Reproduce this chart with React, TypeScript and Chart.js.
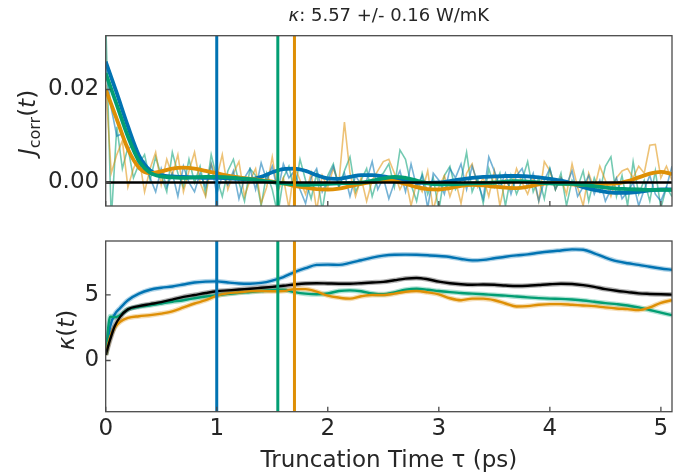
import React, { useEffect, useRef } from "react";
import { Chart, registerables } from "chart.js";

Chart.register(...registerables);

// ---------- colours ----------
const BLUE = "#0173b2";
const ORANGE = "#de8f05";
const GREEN = "#029e73";
const BLACK = "#000000";
const INK = "#262626";
const FRAME = "#4a4a4a";
const FONT = "'DejaVu Sans', sans-serif";

// ---------- axes / ticks ----------
const xTicks = [0, 1, 2, 3, 4, 5];
const jTicks = [0, 0.02];
const kTicks = [0, 5];
const X_MAX = 5.1;
const J_MIN = -0.00505;
const J_MAX = 0.03157;
const K_MIN = -3.91;
const K_MAX = 9.12;

const titleKappa = "κ";
const titleRest = ": 5.57 +/- 0.16 W/mK";
const xLabel = "Truncation Time τ (ps)";

// cutoff (truncation) times for blue, green, orange runs
const cutoffTimes = [1.0, 1.55, 1.7];
const cutoffColors = [BLUE, GREEN, ORANGE];
const jBaseline = 0;

// ---------- heat-flux autocorrelation, raw (dt = 0.05 ps) ----------
const RAW_DT = 0.05;
const jRawBlue = [
  0.025, 0.016, 0.010, 0.0105, 0.007, 0.0085, 0.003, 0.0045, 0.001, -0.002,
  0.003, -0.001, 0.002, -0.003, 0.0035, 0.000, -0.002, 0.002, -0.001, 0.004,
  -0.0025, 0.0015, -0.0005, 0.0025, -0.0035, 0.001, 0.003, -0.0015, 0.0042, 0.0005,
  0.0035, -0.002, 0.004, 0.001, 0.0025, -0.0015, -0.0045, 0.001, 0.003, -0.002,
  0.0005, 0.0035, -0.001, 0.002, -0.003, 0.0015, -0.0005, 0.0005, 0.0045, -0.0015,
  0.001, -0.0035, 0.000, 0.0025, -0.002, 0.004, -0.001, 0.0015, -0.0055, 0.002,
  0.0005, -0.0025, 0.003, 0.001, 0.004, -0.0015, 0.0035, 0.000, -0.0035, 0.0055,
  0.0025, -0.001, 0.002, -0.0025, 0.0015, 0.003, -0.001, 0.002, -0.004, 0.0005,
  0.003, -0.0015, 0.001, -0.0005, 0.0025, -0.003, -0.001, 0.0015, -0.0025, 0.0005,
  -0.004, -0.0015, 0.001, -0.0035, -0.002, 0.000, -0.005, -0.0015, 0.0015, -0.0025,
  -0.004, -0.001, 0.0035,
];
const jRawOrange = [
  0.021, 0.002, 0.006, 0.009, -0.001, 0.003, 0.0055, -0.002, 0.003, 0.0065,
  -0.0005, 0.005, 0.0015, 0.006, -0.002, 0.0025, 0.0065, 0.000, -0.003, 0.004,
  0.001, 0.006, -0.0015, 0.002, 0.0045, -0.003, 0.0005, 0.003, -0.0045, -0.001,
  0.0055, -0.002, 0.001, -0.0055, 0.0035, 0.0005, -0.0025, 0.002, -0.006, 0.0015,
  -0.001, 0.003, 0.000, 0.013, 0.002, -0.003, 0.001, -0.004, 0.0005, 0.0025,
  0.0045, 0.005, 0.002, -0.0015, 0.001, -0.005, 0.000, -0.002, 0.0025, -0.006,
  -0.001, 0.0015, -0.003, 0.0005, -0.0045, 0.002, 0.004, -0.001, 0.001, -0.003,
  0.0025, -0.005, 0.0005, -0.0015, 0.003, 0.000, -0.0025, 0.001, -0.004, 0.0045,
  0.0025, -0.0015, 0.001, -0.0025, 0.004, -0.001, -0.005, 0.002, -0.0015, 0.0035,
  0.0005, -0.003, 0.001, 0.0025, 0.003, 0.001, 0.0035, 0.002, 0.008, 0.0082,
  0.001, 0.0035, 0.0005,
];
const jRawGreen = [
  0.035, -0.008, 0.012, 0.003, 0.0075, 0.001, 0.004, 0.006, 0.0005, 0.0055,
  0.0015, -0.002, 0.0065, 0.002, -0.001, 0.005, 0.000, 0.0035, -0.0025, 0.006,
  0.001, -0.003, 0.0025, 0.005, 0.000, -0.004, 0.003, 0.0015, -0.005, 0.002,
  -0.0015, -0.007, 0.001, 0.0035, -0.002, 0.005, 0.0005, -0.0035, 0.002, -0.006,
  0.0015, 0.004, -0.001, 0.0025, 0.0055, -0.002, 0.0005, 0.003, -0.003, 0.001,
  0.002, 0.004, -0.001, 0.007, 0.005, -0.0005, -0.004, 0.002, -0.0025, 0.001,
  -0.006, 0.0015, 0.0035, -0.0015, 0.0005, 0.0065, -0.002, 0.001, -0.0045, 0.003,
  -0.001, 0.002, -0.005, 0.0015, -0.0025, 0.0005, 0.0045, -0.002, 0.001, -0.0035,
  0.003, -0.0015, 0.002, -0.005, 0.0005, -0.001, 0.0025, -0.004, 0.001, -0.002,
  0.0035, 0.0055, -0.003, 0.0015, -0.005, 0.0045, -0.0025, 0.0005, -0.004, 0.0025,
  -0.0055, -0.001, -0.003,
];

// ---------- smoothed autocorrelation (dt = 0.1 ps) ----------
const SMOOTH_DT = 0.1;
const jSmoothBlue = [
  0.026, 0.0192, 0.0121, 0.0058, 0.0026, 0.0016, 0.0013, 0.0012, 0.0011, 0.0010,
  0.0010, 0.0009, 0.0008, 0.0007, 0.0012, 0.0022, 0.0029, 0.0030, 0.0025, 0.0016,
  0.0009, 0.0008, 0.0012, 0.0016, 0.0016, 0.0013, 0.0008, 0.0003, 0.0000, -0.0001,
  0.0000, 0.0003, 0.0007, 0.0010, 0.0012, 0.0013, 0.0014, 0.0014, 0.0013, 0.0011,
  0.0008, 0.0004, -0.0002, -0.0010, -0.0016, -0.0020, -0.0022, -0.0022, -0.0020, -0.0017,
  -0.0015, -0.0015,
];
const jSmoothOrange = [
  0.020, 0.0136, 0.0072, 0.0032, 0.0020, 0.0024, 0.0030, 0.0032, 0.0030, 0.0025,
  0.0020, 0.0015, 0.0011, 0.0008, 0.0005, 0.0002, -0.0002, -0.0007, -0.0011, -0.0014,
  -0.0015, -0.0013, -0.0008, -0.0003, 0.0001, 0.0004, 0.0003, -0.0003, -0.0010, -0.0014,
  -0.0015, -0.0012, -0.0007, -0.0005, -0.0006, -0.0009, -0.0011, -0.0012, -0.0009, -0.0004,
  -0.0001, -0.0002, -0.0004, -0.0005, -0.0004, -0.0003, -0.0002, 0.0003, 0.0011, 0.0019,
  0.0023, 0.0018,
];
const jSmoothGreen = [
  0.0235, 0.0167, 0.0099, 0.0046, 0.0021, 0.0013, 0.0011, 0.0010, 0.0011, 0.0012,
  0.0012, 0.0011, 0.0009, 0.0007, 0.0004, 0.0001, -0.0002, -0.0004, -0.0005, -0.0004,
  -0.0003, -0.0002, -0.0001, 0.0000, 0.0004, 0.0009, 0.0012, 0.0010, 0.0004, -0.0002,
  -0.0004, -0.0004, -0.0003, -0.0002, -0.0001, 0.0000, 0.0002, 0.0003, 0.0002, 0.0000,
  -0.0002, -0.0003, -0.0003, -0.0005, -0.0008, -0.0011, -0.0013, -0.0014, -0.0015, -0.0016,
  -0.0016, -0.0016,
];

// ---------- running thermal conductivity kappa(t) ----------
const kT = [
  0, 0.04, 0.08, 0.13, 0.2, 0.3,
  0.4, 0.5, 0.6, 0.7, 0.8, 0.9, 1.0,
  1.1, 1.2, 1.3, 1.4, 1.5, 1.6, 1.7, 1.8, 1.9, 2.0,
  2.1, 2.2, 2.3, 2.4, 2.5, 2.6, 2.7, 2.8, 2.9, 3.0,
  3.1, 3.2, 3.3, 3.4, 3.5, 3.6, 3.7, 3.8, 3.9, 4.0,
  4.1, 4.2, 4.3, 4.4, 4.5, 4.6, 4.7, 4.8, 4.9, 5.0,
  5.1,
];
const kBlue = [
  0.43, 2.6, 3.5, 4.0, 4.6, 5.1,
  5.4, 5.55, 5.65, 5.8, 5.95, 6.02, 6.04,
  5.95, 5.88, 5.86, 5.92, 6.1, 6.37, 6.75, 7.05, 7.3, 7.32,
  7.3, 7.45, 7.65, 7.85, 8.0, 8.07, 8.08, 8.07, 8.03, 7.97,
  7.9, 7.75, 7.64, 7.68, 7.8, 7.92, 8.02, 8.1, 8.22, 8.32,
  8.4, 8.48, 8.45, 8.18, 7.85, 7.58, 7.42, 7.3, 7.15, 7.02,
  6.92,
];
const kMean = [
  0.43, 1.6, 2.6, 3.33, 3.9, 4.15,
  4.3, 4.45, 4.65, 4.85, 5.0, 5.15, 5.28,
  5.35, 5.42, 5.48, 5.55, 5.62, 5.7, 5.8, 5.88, 5.9, 5.88,
  5.86, 5.86, 5.9, 5.95, 6.0, 6.12, 6.25, 6.3, 6.2, 6.02,
  5.9, 5.82, 5.78, 5.8, 5.78, 5.72, 5.68, 5.7, 5.76, 5.82,
  5.86, 5.84, 5.75, 5.62, 5.45, 5.32, 5.22, 5.12, 5.08, 5.05,
  5.03,
];
const kOrange = [
  0.43, 1.8, 2.5, 2.96, 3.25, 3.38,
  3.46, 3.58, 3.75, 4.05, 4.35, 4.6, 4.95,
  5.12, 5.2, 5.28, 5.3, 5.28, 5.3, 5.45, 5.45, 5.25, 4.95,
  4.8, 4.72, 4.9, 5.0, 5.0, 5.1, 5.25, 5.3, 5.2, 5.05,
  4.75, 4.6, 4.72, 4.72, 4.6, 4.35, 4.12, 4.15, 4.25, 4.3,
  4.3, 4.25, 4.2, 4.15, 4.05, 3.97, 3.92, 3.85, 4.05, 4.4,
  4.6,
];
const kGreen = [
  0.43, 3.35, 3.3, 3.46, 3.9, 4.1,
  4.22, 4.35, 4.48, 4.6, 4.75, 4.88, 4.98,
  5.08, 5.17, 5.23, 5.3, 5.37, 5.4, 5.22, 5.1, 5.05, 5.12,
  5.3, 5.35, 5.28, 5.12, 5.05, 5.2, 5.4, 5.48, 5.4, 5.3,
  5.22, 5.15, 5.1, 5.05, 5.0, 4.95, 4.88, 4.82, 4.76, 4.72,
  4.7, 4.65, 4.58, 4.48, 4.38, 4.3, 4.2, 4.05, 3.85, 3.65,
  3.46,
];

// ---------- helpers ----------
const W = 679;
const TOP_H = 230;
const BOT_H = 476 - TOP_H;
const AXIS_LEFT = 105.7;
const PAD_RIGHT = 679 - 672;
const FS = 23;

const grid = (step: number, ys: number[]) => ys.map((y, i) => ({ x: i * step, y }));
const pairs = (xs: number[], ys: number[]) => ys.map((y, i) => ({ x: xs[i], y }));
const alpha = (hex: string, a: number) => {
  const n = parseInt(hex.slice(1), 16);
  return `rgba(${(n >> 16) & 255},${(n >> 8) & 255},${n & 255},${a})`;
};

type Part = { t: string; font: string; dy?: number };
function drawParts(ctx: CanvasRenderingContext2D, parts: Part[], x: number, y: number, rotate: boolean) {
  ctx.save();
  ctx.fillStyle = INK;
  ctx.textBaseline = "alphabetic";
  ctx.textAlign = "left";
  let total = 0;
  const widths = parts.map((p) => {
    ctx.font = p.font;
    const w = ctx.measureText(p.t).width;
    total += w;
    return w;
  });
  ctx.translate(x, y);
  if (rotate) ctx.rotate(-Math.PI / 2);
  let cx = -total / 2;
  parts.forEach((p, i) => {
    ctx.font = p.font;
    ctx.fillText(p.t, cx, p.dy || 0);
    cx += widths[i];
  });
  ctx.restore();
}

function makeDecor(yTickVals: number[], drawZero: boolean, drawText: (ctx: CanvasRenderingContext2D, area: any) => void) {
  return {
    id: "decor",
    afterDatasetsDraw(chart: any) {
      const { ctx, chartArea: a, scales } = chart;
      ctx.save();
      ctx.beginPath();
      ctx.rect(a.left, a.top, a.right - a.left, a.bottom - a.top);
      ctx.clip();
      if (drawZero) {
        const py = scales.y.getPixelForValue(jBaseline);
        ctx.strokeStyle = BLACK;
        ctx.lineWidth = 2.6;
        ctx.beginPath();
        ctx.moveTo(a.left, py);
        ctx.lineTo(a.right, py);
        ctx.stroke();
      }
      cutoffTimes.forEach((c, i) => {
        const px = scales.x.getPixelForValue(c);
        ctx.strokeStyle = cutoffColors[i];
        ctx.lineWidth = 3;
        ctx.beginPath();
        ctx.moveTo(px, a.top);
        ctx.lineTo(px, a.bottom);
        ctx.stroke();
      });
      ctx.restore();
    },
    afterDraw(chart: any) {
      const { ctx, chartArea: a, scales } = chart;
      ctx.save();
      ctx.strokeStyle = FRAME;
      ctx.lineWidth = 1.3;
      ctx.strokeRect(a.left, a.top, a.right - a.left, a.bottom - a.top);
      ctx.beginPath();
      xTicks.forEach((v) => {
        const px = scales.x.getPixelForValue(v);
        ctx.moveTo(px, a.bottom);
        ctx.lineTo(px, a.bottom - 5);
      });
      yTickVals.forEach((v) => {
        const py = scales.y.getPixelForValue(v);
        ctx.moveTo(a.left, py);
        ctx.lineTo(a.left + 5, py);
      });
      ctx.stroke();
      ctx.restore();
      drawText(ctx, a);
    },
  };
}

const tickFont = { family: FONT, size: FS, lineHeight: 1.0 };
const noPadY = (s: any) => {
  s.width = AXIS_LEFT;
  s.paddingTop = 0;
  s.paddingBottom = 0;
};

export default function App() {
  const topRef = useRef<HTMLCanvasElement>(null);
  const botRef = useRef<HTMLCanvasElement>(null);

  useEffect(() => {
    const raw = (data: number[], color: string) => ({
      data: grid(RAW_DT, data),
      borderColor: alpha(color, 0.55),
      borderWidth: 1.6,
      tension: 0,
      order: 10,
    });
    const smooth = (data: number[], color: string, order: number) => ({
      data: grid(SMOOTH_DT, data),
      borderColor: color,
      borderWidth: 3.8,
      cubicInterpolationMode: "monotone" as const,
      order,
    });

    const top = new Chart(topRef.current!, {
      type: "line",
      data: {
        datasets: [
          raw(jRawBlue, BLUE),
          raw(jRawOrange, ORANGE),
          raw(jRawGreen, GREEN),
          smooth(jSmoothBlue, BLUE, 3),
          smooth(jSmoothOrange, ORANGE, 2),
          smooth(jSmoothGreen, GREEN, 1),
        ] as any,
      },
      options: {
        animation: false,
        responsive: false,
        maintainAspectRatio: false,
        layout: { padding: { top: 35.7, right: PAD_RIGHT, left: 0, bottom: 0 } },
        elements: { point: { radius: 0 } },
        plugins: { legend: { display: false }, tooltip: { enabled: false }, title: { display: false } },
        scales: {
          x: {
            type: "linear",
            min: 0,
            max: X_MAX,
            grid: { display: false, drawTicks: false },
            border: { display: false },
            ticks: { display: false },
            afterFit: (s: any) => {
              s.height = TOP_H - 206;
              s.paddingLeft = 0;
              s.paddingRight = 0;
            },
          },
          y: {
            type: "linear",
            min: J_MIN,
            max: J_MAX,
            grid: { display: false, drawTicks: false },
            border: { display: false },
            ticks: { font: tickFont, color: INK, padding: 6.5, callback: (v: any) => Number(v).toFixed(2) },
            afterBuildTicks: (s: any) => {
              s.ticks = jTicks.map((value) => ({ value }));
            },
            afterFit: noPadY,
          },
        },
      } as any,
      plugins: [
        makeDecor(jTicks, true, (ctx, a) => {
          drawParts(
            ctx,
            [
              { t: titleKappa, font: `italic 18px ${FONT}` },
              { t: titleRest, font: `18px ${FONT}` },
            ],
            (a.left + a.right) / 2,
            20.5,
            false
          );
          drawParts(
            ctx,
            [
              { t: "J", font: `italic ${FS}px ${FONT}` },
              { t: "corr", font: `16px ${FONT}`, dy: 5 },
              { t: "(", font: `${FS}px ${FONT}` },
              { t: "t", font: `italic ${FS}px ${FONT}` },
              { t: ")", font: `${FS}px ${FONT}` },
            ],
            35,
            122.5,
            true
          );
        }),
      ],
    });

    const kLine = (data: number[], color: string, order: number) => [
      {
        data: pairs(kT, data),
        borderColor: alpha(color, 0.3),
        borderWidth: 5,
        tension: 0.3,
        order: order + 10,
      },
      {
        data: pairs(kT, data),
        borderColor: color,
        borderWidth: 2.4,
        cubicInterpolationMode: "monotone" as const,
        order,
      },
    ];

    const bot = new Chart(botRef.current!, {
      type: "line",
      data: {
        datasets: [
          ...kLine(kBlue, BLUE, 4),
          ...kLine(kGreen, GREEN, 3),
          ...kLine(kOrange, ORANGE, 2),
          ...kLine(kMean, BLACK, 1),
        ] as any,
      },
      options: {
        animation: false,
        responsive: false,
        maintainAspectRatio: false,
        layout: { padding: { top: 241 - TOP_H, right: PAD_RIGHT, left: 0, bottom: 0 } },
        elements: { point: { radius: 0 } },
        plugins: { legend: { display: false }, tooltip: { enabled: false }, title: { display: false } },
        scales: {
          x: {
            type: "linear",
            min: 0,
            max: X_MAX,
            grid: { display: false, drawTicks: false },
            border: { display: false },
            ticks: { font: tickFont, color: INK, padding: 5.8, maxRotation: 0, autoSkip: false },
            afterBuildTicks: (s: any) => {
              s.ticks = xTicks.map((value) => ({ value }));
            },
            title: {
              display: true,
              text: xLabel,
              font: { family: FONT, size: FS, lineHeight: 1.2 },
              color: INK,
              padding: { top: 0, bottom: 1.5 },
            },
            afterFit: (s: any) => {
              s.height = 476 - 411.7;
              s.paddingLeft = 0;
              s.paddingRight = 0;
            },
          },
          y: {
            type: "linear",
            min: K_MIN,
            max: K_MAX,
            grid: { display: false, drawTicks: false },
            border: { display: false },
            ticks: { font: tickFont, color: INK, padding: 6.5 },
            afterBuildTicks: (s: any) => {
              s.ticks = kTicks.map((value) => ({ value }));
            },
            afterFit: noPadY,
          },
        },
      } as any,
      plugins: [
        makeDecor(kTicks, false, (ctx) => {
          drawParts(
            ctx,
            [
              { t: "κ", font: `italic ${FS}px ${FONT}` },
              { t: "(", font: `${FS}px ${FONT}` },
              { t: "t", font: `italic ${FS}px ${FONT}` },
              { t: ")", font: `${FS}px ${FONT}` },
            ],
            74,
            330 - TOP_H,
            true
          );
        }),
      ],
    });

    return () => {
      top.destroy();
      bot.destroy();
    };
  }, []);

  return (
    <div style={{ position: "absolute", left: 0, top: 0, width: W, height: 476, background: "#fff" }}>
      <canvas ref={topRef} width={W} height={TOP_H} style={{ position: "absolute", left: 0, top: 0, display: "block" }} />
      <canvas ref={botRef} width={W} height={BOT_H} style={{ position: "absolute", left: 0, top: TOP_H, display: "block" }} />
    </div>
  );
}
